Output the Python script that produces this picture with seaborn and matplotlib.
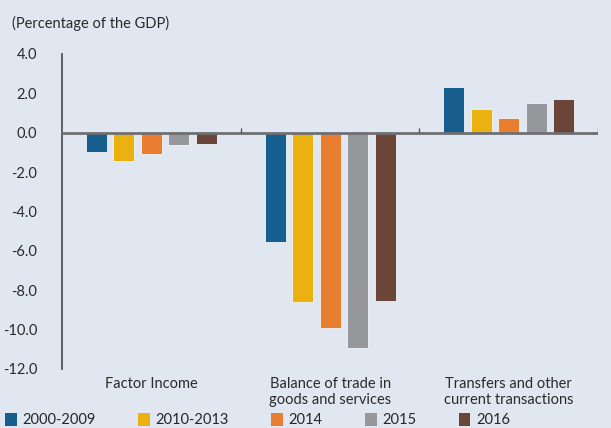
import pandas as pd
import seaborn as sns
import matplotlib.pyplot as plt
from matplotlib.patches import Patch

categories = ['Factor Income', 'Balance of trade in\ngoods and services',
              'Transfers and other\ncurrent transactions']
periods = ['2000-2009', '2010-2013', '2014', '2015', '2016']
values = {
    '2000-2009': [-1.00, -5.53, 2.33],
    '2010-2013': [-1.45, -8.58, 1.22],
    '2014': [-1.07, -9.90, 0.76],
    '2015': [-0.62, -10.96, 1.52],
    '2016': [-0.55, -8.53, 1.73],
}
colors = ['#155e8e', '#ebb111', '#e97e31', '#96979a', '#6b4538']
yticks = [4.0, 2.0, 0.0, -2.0, -4.0, -6.0, -8.0, -10.0, -12.0]

rows = []
for p in periods:
    for c, v in zip(categories, values[p]):
        rows.append({'cat': c, 'period': p, 'val': v})
df = pd.DataFrame(rows)

bg = '#e0e7f1'
sns.set_style('white')
plt.rcParams['font.family'] = ['Lato', 'DejaVu Sans']

fig = plt.figure(figsize=(6.11, 4.28), dpi=100, facecolor=bg)
ax = fig.add_axes([0.1015, 0.138, 0.8775, 0.736])
ax.set_facecolor(bg)

sns.barplot(data=df, x='cat', y='val', hue='period', order=categories,
            hue_order=periods, palette=colors, saturation=1, width=0.77, gap=0.24,
            edgecolor='#f2f4f8', linewidth=0.6, ax=ax, legend=False)

ax.set_xlim(-0.5, 2.5)
ax.set_ylim(-12, 4)
ax.set_yticks(yticks)
ax.set_yticklabels([f'{t:.1f}' for t in yticks], fontsize=10.5, color='#2a2a2a')
ax.tick_params(axis='y', direction='in', length=3, width=1, color='#555555', pad=18)
ax.tick_params(axis='x', length=0, pad=6, labelsize=10.5, labelcolor='#2a2a2a')
ax.set_xlabel('')
ax.set_ylabel('')

for s in ['top', 'right', 'bottom']:
    ax.spines[s].set_visible(False)
ax.spines['left'].set_color('#555555')
ax.spines['left'].set_linewidth(1.3)

ax.axhline(0, color='#6e6f73', lw=2, zorder=3)
ax.vlines([0.5, 1.5, 2.5], 0, 0.25, color='#555555', lw=1, zorder=3)

fig.text(0.02, 0.935, '(Percentage of the GDP)', fontsize=10.5, color='#2a2a2a')

handles = [Patch(facecolor=c, edgecolor='none') for c in colors]
fig.legend(handles, periods, loc='lower left', bbox_to_anchor=(0.008, 0.002),
           ncol=5, frameon=False, fontsize=10.5, handlelength=0.8,
           handleheight=1.0, handletextpad=0.4, columnspacing=2.9,
           borderpad=0, borderaxespad=0)

fig.savefig('out.png', dpi=100, facecolor=bg)
